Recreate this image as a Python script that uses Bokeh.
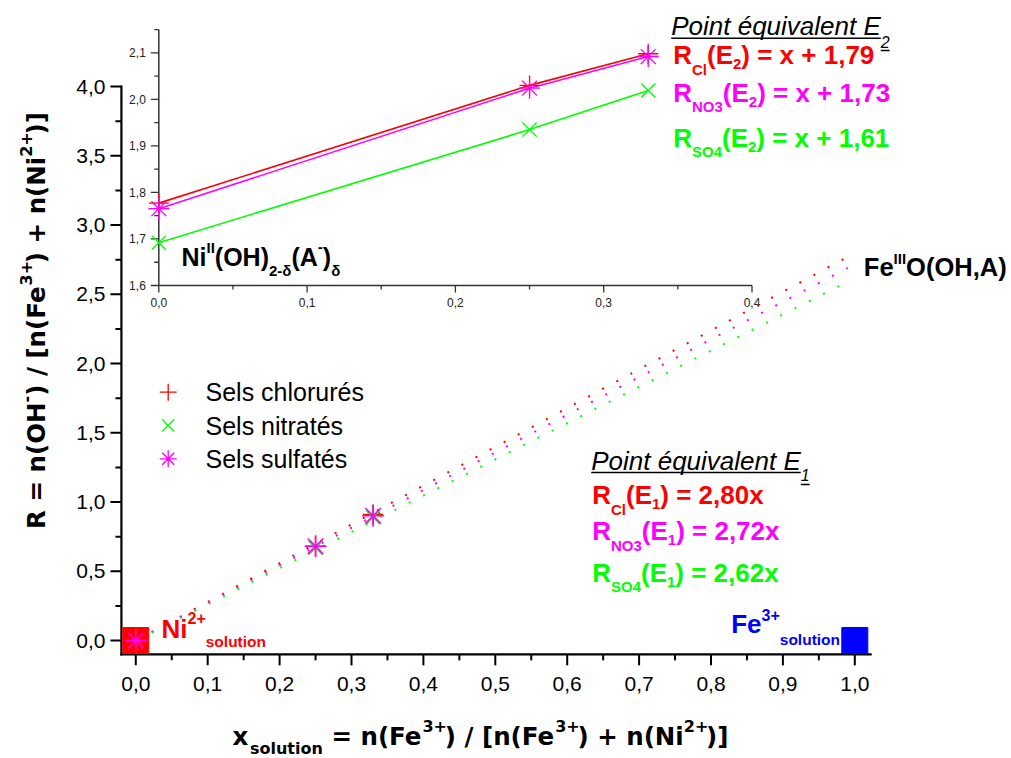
import math
from bokeh.plotting import figure
from bokeh.models import Range1d, ColumnDataSource
from bokeh.embed import file_html
from bokeh.resources import INLINE
from bokeh.core.properties import value

# ---------------- data ----------------
series_names = ["Sels chlorurés", "Sels nitratés", "Sels sulfatés"]

# main plot : measured points R vs x_solution
x_meas = [0.0, 0.25, 0.33]
r_chlorures = [0.0, 0.68, 0.91]
r_nitrates = [0.0, 0.67, 0.89]
r_sulfates = [0.0, 0.68, 0.90]

# equivalence point E1 lines (end points)
e1_x = [0.022, 0.99]
e1_chlorures = [0.060, 2.77]
e1_sulfates = [0.059, 2.69]
e1_nitrates = [0.057, 2.59]

# pure solutions (Ni2+ and Fe3+)
sol_x = [0.0, 1.0]
sol_r = [0.0, 0.0]

# main axes
main_xlim = [-0.02, 1.022]
main_ylim = [-0.10, 4.0]
main_xticks = [0.0, 0.1, 0.2, 0.3, 0.4, 0.5, 0.6, 0.7, 0.8, 0.9, 1.0]
main_xtick_labels = ["0,0", "0,1", "0,2", "0,3", "0,4", "0,5", "0,6", "0,7", "0,8", "0,9", "1,0"]
main_xminor = [0.05, 0.15, 0.25, 0.35, 0.45, 0.55, 0.65, 0.75, 0.85, 0.95]
main_yticks = [0.0, 0.5, 1.0, 1.5, 2.0, 2.5, 3.0, 3.5, 4.0]
main_ytick_labels = ["0,0", "0,5", "1,0", "1,5", "2,0", "2,5", "3,0", "3,5", "4,0"]
main_yminor = [0.25, 0.75, 1.25, 1.75, 2.25, 2.75, 3.25, 3.75]

# inset : equivalence point E2
inset_x = [0.0, 0.25, 0.33]
inset_chlorures = [1.777, 2.030, 2.098]
inset_sulfates = [1.765, 2.024, 2.092]
inset_nitrates = [1.692, 1.935, 2.019]

inset_xlim = [0.0, 0.4]
inset_ylim = [1.6, 2.15]
inset_xticks = [0.0, 0.1, 0.2, 0.3, 0.4]
inset_xtick_labels = ["0,0", "0,1", "0,2", "0,3", "0,4"]
inset_xminor = [0.05, 0.15, 0.25, 0.35]
inset_yticks = [1.6, 1.7, 1.8, 1.9, 2.0, 2.1]
inset_ytick_labels = ["1,6", "1,7", "1,8", "1,9", "2,0", "2,1"]
inset_yminor = [1.65, 1.75, 1.85, 1.95, 2.05, 2.15]

eq_species = ["Cl", "NO3", "SO4"]
e2_constants = ["1,79", "1,73", "1,61"]
e1_slopes = ["2,80", "2,72", "2,62"]

RED, GREEN, MAG, BLUE = "#ff0000", "#00ff00", "#ff00ff", "#0000ff"
eq_colors = [RED, MAG, GREEN]

# ---------------- geometry (pixels) ----------------
W, H = 1011, 758
X0, SX = 135.3, 719.0        # main x: pixel of 0, px per unit
Y0, SY = 640.0, 138.5        # main y
IX0, ISX = 158.3, 1483.0     # inset x
IY0, ISY = 285.0, 465.4      # inset y (pixel of 1.6)
MID = 0.35                   # em-middle above the baseline


def mx(px):
    return (px - X0) / SX


def my(py):
    return (Y0 - py) / SY


def ix(px):
    return (px - IX0) / ISX


def iy(py):
    return 1.6 + (IY0 - py) / ISY


AR = {' ': 278, ',': 278, '(': 333, ')': 333, '/': 278, '[': 278, ']': 278, '+': 584, '=': 584,
      '-': 333, 'A': 667, 'E': 667, 'F': 611, 'H': 722, 'I': 278, 'N': 722, 'O': 778, 'P': 667,
      'R': 722, 'C': 722, 'S': 667, 'a': 556, 'c': 500, 'e': 556, 'é': 556, 'h': 556, 'i': 222,
      'l': 222, 'n': 556, 'o': 556, 'q': 556, 'r': 333, 's': 500, 't': 278, 'u': 556, 'v': 500,
      'x': 500, 'δ': 556}
ARB = {' ': 278, ',': 278, '(': 333, ')': 333, '/': 278, '[': 333, ']': 333, '+': 584, '=': 584,
       '-': 333, 'A': 722, 'C': 722, 'E': 667, 'F': 611, 'H': 722, 'I': 278, 'N': 722, 'O': 778,
       'R': 722, 'S': 667, 'a': 556, 'c': 556, 'e': 556, 'i': 278, 'l': 278, 'n': 611, 'o': 611,
       's': 556, 't': 333, 'u': 611, 'x': 556, 'δ': 611}
DVB = {' ': 348, '(': 457, ')': 457, '[': 457, ']': 457, '/': 365, '+': 838, '=': 838, '-': 415,
       ',': 380, 'R': 770, 'O': 850, 'H': 837, 'F': 683, 'N': 837, 'x': 712, 'e': 678, 'n': 712,
       'i': 343, 's': 595, 'o': 687, 'l': 343, 'u': 712, 't': 478}


def tw(s, size, table):
    return sum(table.get(c, 556) for c in s) * size / 1000.0


p = figure(width=W, height=H,
           x_range=Range1d(mx(0), mx(W)), y_range=Range1d(my(H), my(0)),
           min_border_left=0, min_border_right=0, min_border_top=0, min_border_bottom=0,
           x_axis_location=None, y_axis_location=None,
           output_backend="svg", toolbar_location=None, tools="")
p.title.visible = False
p.outline_line_color = None
p.xgrid.visible = False
p.ygrid.visible = False
p.background_fill_color = "white"
p.border_fill_color = "white"
p.extra_x_ranges = {"ix": Range1d(ix(0), ix(W))}
p.extra_y_ranges = {"iy": Range1d(iy(H), iy(0))}

# ---------------- main axes ----------------
BLACK = "black"
p.segment(x0=[main_xlim[0], main_xlim[0]], y0=[main_ylim[0], main_ylim[0]],
          x1=[main_xlim[1], main_xlim[0]], y1=[main_ylim[0], main_ylim[1]],
          line_color=BLACK, line_width=2.2, line_cap="square")
tM_y, tm_y = 11 / SY, 6 / SY
tM_x, tm_x = 11 / SX, 6 / SX
p.segment(x0=main_xticks, y0=[main_ylim[0]] * len(main_xticks), x1=main_xticks,
          y1=[main_ylim[0] - tM_y] * len(main_xticks), line_color=BLACK, line_width=2)
p.segment(x0=main_xminor, y0=[main_ylim[0]] * len(main_xminor), x1=main_xminor,
          y1=[main_ylim[0] - tm_y] * len(main_xminor), line_color=BLACK, line_width=2)
p.segment(x0=[main_xlim[0]] * len(main_yticks), y0=main_yticks, x1=[main_xlim[0] - tM_x] * len(main_yticks),
          y1=main_yticks, line_color=BLACK, line_width=2)
p.segment(x0=[main_xlim[0]] * len(main_yminor), y0=main_yminor, x1=[main_xlim[0] - tm_x] * len(main_yminor),
          y1=main_yminor, line_color=BLACK, line_width=2)
p.text(x=main_xticks, y=[main_ylim[0] - 30 / SY] * len(main_xticks), text=main_xtick_labels,
       text_font=value("Liberation Sans"), text_font_size=value("21px"), text_color=BLACK,
       text_align="center", text_baseline="middle")
p.text(x=[main_xlim[0] - 16 / SX] * len(main_yticks), y=main_yticks, text=main_ytick_labels,
       text_font=value("Liberation Sans"), text_font_size=value("21px"), text_color=BLACK,
       text_align="right", text_baseline="middle")

# ---------------- inset ----------------
inset_kw = dict(x_range_name="ix", y_range_name="iy")
AXC = "#333333"
p.segment(x0=[inset_xlim[0], inset_xlim[0]], y0=[inset_ylim[0], inset_ylim[0]],
          x1=[inset_xlim[1], inset_xlim[0]], y1=[inset_ylim[0], inset_ylim[1]],
          line_color=AXC, line_width=1.5, **inset_kw)
iM_y, im_y = 7 / ISY, 4 / ISY
iM_x, im_x = 8 / ISX, 4.5 / ISX
p.segment(x0=inset_xticks, y0=[inset_ylim[0]] * len(inset_xticks), x1=inset_xticks,
          y1=[inset_ylim[0] - iM_y] * len(inset_xticks), line_color=AXC, line_width=1.3, **inset_kw)
p.segment(x0=inset_xminor, y0=[inset_ylim[0]] * len(inset_xminor), x1=inset_xminor,
          y1=[inset_ylim[0] - im_y] * len(inset_xminor), line_color=AXC, line_width=1.3, **inset_kw)
p.segment(x0=[inset_xlim[0]] * len(inset_yticks), y0=inset_yticks, x1=[inset_xlim[0] - iM_x] * len(inset_yticks),
          y1=inset_yticks, line_color=AXC, line_width=1.3, **inset_kw)
p.segment(x0=[inset_xlim[0]] * len(inset_yminor), y0=inset_yminor, x1=[inset_xlim[0] - im_x] * len(inset_yminor),
          y1=inset_yminor, line_color=AXC, line_width=1.3, **inset_kw)
p.text(x=inset_xticks, y=[inset_ylim[0] - 17 / ISY] * len(inset_xticks), text=inset_xtick_labels,
       text_font=value("Liberation Sans"), text_font_size=value("12px"), text_color="#222222",
       text_align="center", text_baseline="middle", **inset_kw)
p.text(x=[inset_xlim[0] - 13 / ISX] * len(inset_yticks), y=inset_yticks, text=inset_ytick_labels,
       text_font=value("Liberation Sans"), text_font_size=value("12px"), text_color="#222222",
       text_align="right", text_baseline="middle", **inset_kw)

p.line(inset_x, inset_chlorures, line_color=RED, line_width=1.6, **inset_kw)
p.line(inset_x, inset_sulfates, line_color=MAG, line_width=1.6, **inset_kw)
p.line(inset_x, inset_nitrates, line_color=GREEN, line_width=1.6, **inset_kw)
p.scatter(inset_x, inset_chlorures, marker="cross", size=20, line_color=RED, line_width=1.3, **inset_kw)
p.scatter(inset_x, inset_nitrates, marker="x", size=20, line_color=GREEN, line_width=1.3, **inset_kw)
p.scatter(inset_x, inset_sulfates, marker="asterisk", size=21, line_color=MAG, line_width=1.3, **inset_kw)

# ---------------- main plot ----------------
p.line(e1_x, e1_chlorures, line_color=RED, line_width=2, line_dash="2 14")
p.line(e1_x, e1_sulfates, line_color=MAG, line_width=2, line_dash="2 14")
p.line(e1_x, e1_nitrates, line_color=GREEN, line_width=2, line_dash="2 14")
p.scatter(x_meas, r_chlorures, marker="cross", size=20, line_color=RED, line_width=1.5)
p.scatter(x_meas, r_nitrates, marker="x", size=20, line_color=GREEN, line_width=1.5)
p.scatter(sol_x, sol_r, marker="square", size=26, fill_color=[RED, BLUE], line_color=[RED, BLUE])
p.scatter(x_meas, r_sulfates, marker="asterisk", size=22, line_color=MAG, line_width=1.5)

# legend (drawn by hand so that markers keep their size)
leg_px, leg_text_px = 167.7, 205.0
leg_rows = [391.7, 425.0, 458.3]
leg_markers = ["cross", "x", "asterisk"]
leg_colors = [RED, GREEN, MAG]
for mk, col, row in zip(leg_markers, leg_colors, leg_rows):
    p.scatter([mx(leg_px)], [my(row)], marker=mk, size=17, line_color=col, line_width=1.3)
p.text(x=[mx(leg_text_px)] * 3, y=[my(r) for r in leg_rows], text=series_names,
       text_font=value("Liberation Sans"), text_font_size=value("25px"), text_color=BLACK,
       text_align="left", text_baseline="middle")

# ---------------- composite texts (sub/superscripts) ----------------
T = dict(x=[], y=[], text=[], size=[], color=[], style=[], font=[], angle=[])
underlines = dict(x0=[], y0=[], x1=[], y1=[])


def compose(x0, base, pieces, color, style="bold", font="Liberation Sans", table=ARB, vertical=False):
    pos = x0
    for txt, size, shift in pieces:
        lead = len(txt) - len(txt.lstrip(" "))
        adv = tw(" " * lead, size, table)
        pos = pos - adv if vertical else pos + adv
        txt = txt.lstrip(" ")
        if vertical:
            T["x"].append(mx(base + shift - MID * size))
            T["y"].append(my(pos))
            T["angle"].append(math.pi / 2)
        else:
            T["x"].append(mx(pos))
            T["y"].append(my(base + shift - MID * size))
            T["angle"].append(0.0)
        T["text"].append(txt)
        T["size"].append(f"{size}px")
        T["color"].append(color)
        T["style"].append(style)
        T["font"].append(font)
        w = tw(txt, size, table)
        pos = pos - w if vertical else pos + w
    return pos


def title_block(x0, base, num, sub_shift, ul_main, ul_sub):
    end_main = x0 + tw("Point équivalent E", 26, AR)
    end = compose(x0, base, [("Point équivalent E", 26, 0), (num, 16, sub_shift)], BLACK,
                  style="italic", table=AR)
    underlines["x0"] += [mx(x0), mx(end_main)]
    underlines["x1"] += [mx(end_main), mx(end)]
    underlines["y0"] += [my(ul_main), my(ul_sub)]
    underlines["y1"] += [my(ul_main), my(ul_sub)]


title_block(670.7, 34.3, "2", 13, 37.8, 50.0)
for spec, const, col, base in zip(eq_species, e2_constants, eq_colors, [64.0, 101.7, 146.7]):
    compose(672.7, base, [("R", 26, 0), (spec, 15, 10), ("(E", 26, 0), ("2", 15, 5),
                          (") = x + " + const, 26, 0)], col)

title_block(590.7, 469.3, "1", 11, 472.0, 484.0)
for spec, slope, col, base in zip(eq_species, e1_slopes, eq_colors, [504.0, 540.0, 581.7]):
    compose(591.7, base, [("R", 26, 0), (spec, 15, 10), ("(E", 26, 0), ("1", 15, 5),
                          (") = " + slope + "x", 26, 0)], col)

compose(181, 265, [("Ni", 25, 0), ("II", 15, -13), ("(OH)", 25, 0), ("2-δ", 15, 10), ("(A", 25, 0),
                   ("-", 15, -13), (")", 25, 0), ("δ", 15, 10)], BLACK)
compose(863.3, 275, [("Fe", 25.5, 0), ("III", 15, -12), ("O(OH,A)", 25.5, 0)], BLACK)
compose(161, 637.3, [("Ni", 26, 0), ("2+", 16, -14), ("solution", 15.5, 9.4)], RED)
compose(730.7, 632.7, [("Fe", 26, 0), ("3+", 16, -13), ("solution", 15.5, 11.3)], BLUE)

# axis titles
xl_pieces = [("x", 24.5, 0), ("solution", 16, 9), (" = n(Fe", 24.5, 0), ("3+", 16, -14), (") / [n(Fe", 24.5, 0),
             ("3+", 16, -14), (") + n(Ni", 24.5, 0), ("2+", 16, -14), (")]", 24.5, 0)]
xl_w = sum(tw(t, s, DVB) for t, s, _ in xl_pieces)
compose(480 - xl_w / 2, 745, xl_pieces, BLACK, font="DejaVu Sans", table=DVB)

yl_pieces = [("R = n(OH", 24.5, 0), ("-", 16, -14), (") / [n(Fe", 24.5, 0), ("3+", 16, -14),
             (") + n(Ni", 24.5, 0), ("2+", 16, -14), (")]", 24.5, 0)]
yl_w = sum(tw(t, s, DVB) for t, s, _ in yl_pieces)
compose(320 + yl_w / 2, 45, yl_pieces, BLACK, font="DejaVu Sans", table=DVB, vertical=True)

p.text(x="x", y="y", text="text", text_font_size="size", text_color="color", text_font_style="style",
       text_font="font", angle="angle", text_align="left", text_baseline="middle",
       source=ColumnDataSource(T))
p.segment(x0="x0", y0="y0", x1="x1", y1="y1", line_color=BLACK, line_width=1.5,
          source=ColumnDataSource(underlines))

open("out.html", "w", encoding="utf-8").write(file_html(p, INLINE))
